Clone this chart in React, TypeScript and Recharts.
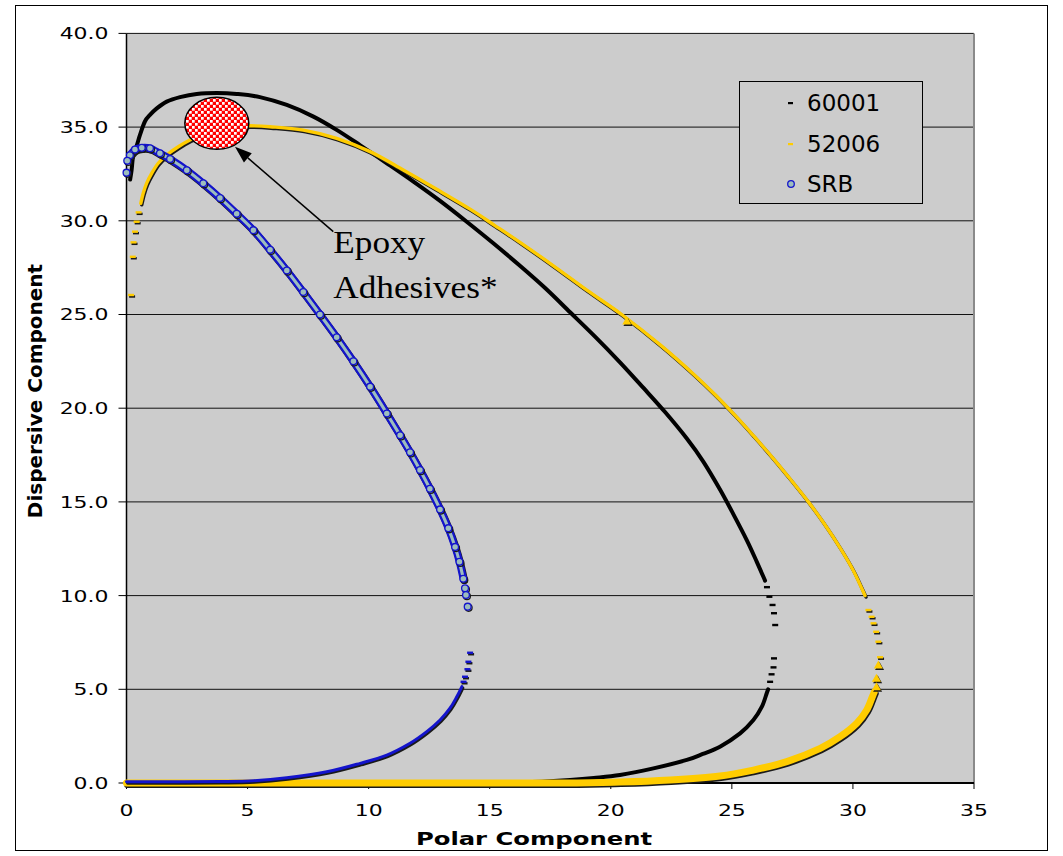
import { ScatterChart, Scatter, XAxis, YAxis, CartesianGrid, ReferenceDot, ReferenceLine } from "recharts"

// values, [polar, dispersive]
const s60001Upper = [
  [0.15, 32.2], [0.21, 32.7], [0.28, 33.5], [0.42, 34.0], [0.56, 34.6], [0.76, 35.3], [0.97, 35.65],
  [1.25, 36.0], [1.66, 36.36], [2.21, 36.6], [2.9, 36.77], [3.73, 36.82], [4.55, 36.77], [5.51, 36.6],
  [6.62, 36.18], [7.72, 35.56], [8.68, 34.85], [9.64, 34.04], [10.75, 33.07], [11.85, 32.09],
  [12.95, 31.06], [14.05, 29.95], [15.15, 28.8], [16.25, 27.6], [17.3, 26.4], [18.32, 25.12],
  [19.35, 23.82], [20.38, 22.45], [21.35, 21.08], [22.25, 19.78], [23.14, 18.38],
  [23.82, 17.15], [24.51, 15.66], [25.06, 14.35], [25.62, 12.95], [26.03, 11.8], [26.37, 10.8],
]
const s60001Tip = [
  [26.45, 10.45], [26.55, 9.94], [26.68, 9.5], [26.74, 9.06], [26.79, 8.43],
  [26.74, 6.65], [26.72, 6.17], [26.64, 5.8], [26.58, 5.4],
]
const s60001Lower = [
  [26.5, 5.0], [26.44, 4.79], [26.24, 4.07], [25.89, 3.36], [25.34, 2.65], [24.51, 1.94], [23.8, 1.55],
  [23.14, 1.23], [21.76, 0.78], [20.38, 0.43], [19.3, 0.27], [18.32, 0.16], [17.3, 0.08], [16.25, 0.03],
  [15.5, 0.0],
]

const s52006Upper = [
  [0.59, 30.93], [0.69, 31.47], [0.83, 32.0], [1.04, 32.53], [1.31, 33.07], [1.66, 33.51], [2.14, 33.95],
  [2.62, 34.31], [3.2, 34.65], [3.9, 34.9], [4.5, 35.02], [5.1, 35.07], [5.93, 35.02], [7.3, 34.84],
  [8.68, 34.4], [10.06, 33.69], [11.43, 32.71], [12.81, 31.68], [14.19, 30.62], [15.2, 29.76],
  [16.25, 28.85], [17.63, 27.6], [19.01, 26.3], [20.45, 25.0], [22.04, 23.38], [23.41, 21.83],
  [24.3, 20.73], [25.2, 19.52], [25.89, 18.53], [26.72, 17.3], [27.41, 16.22],
  [28.16, 15.0], [28.78, 13.9], [29.47, 12.55], [30.02, 11.33], [30.5, 10.0],
]
const s52006Tip = [
  [0.19, 26.04], [0.26, 28.08], [0.29, 28.85], [0.35, 29.42], [0.42, 29.95], [0.5, 30.45],
  [30.64, 9.23], [30.77, 8.87], [30.85, 8.52], [30.96, 8.07], [31.05, 7.54], [31.12, 6.71],
]
const s52006Triangles = [[20.66, 24.65], [31.05, 6.3], [30.97, 5.59], [30.97, 5.14]]
const s52006Lower = [
  [30.88, 4.85], [30.8, 4.6], [30.57, 3.9], [30.16, 3.19], [29.47, 2.47], [28.65, 1.85], [27.27, 1.14],
  [25.89, 0.69], [24.51, 0.37], [22.45, 0.16], [20.38, 0.05], [18, 0.0], [12, 0.0], [6, 0.0], [0, 0.0],
]

const srbUpper = [
  [0.14, 33.5], [0.35, 33.8], [0.63, 33.9], [0.97, 33.87], [1.38, 33.6], [1.8, 33.3], [2.49, 32.7],
  [3.17, 32.0], [3.86, 31.22], [4.55, 30.38], [5.24, 29.5], [5.93, 28.45], [6.62, 27.35], [7.3, 26.2],
  [7.99, 25.0], [8.68, 23.78], [9.37, 22.5], [10.06, 21.15], [10.75, 19.72], [11.3, 18.55],
  [11.71, 17.65], [12.12, 16.7], [12.53, 15.7], [12.95, 14.6], [13.29, 13.6], [13.57, 12.6],
  [13.75, 11.8], [13.91, 10.9],
]
const srbTipCircles = [[0.0, 32.57], [0.03, 33.2], [13.98, 10.39], [14.02, 10.03], [14.09, 9.41]]
const srbLowerTip = [[14.19, 6.95], [14.12, 6.47], [14.08, 6.07], [13.98, 5.67], [13.92, 5.4]]
const srbLower = [
  [13.85, 5.14], [13.64, 4.6], [13.36, 3.99], [12.95, 3.36], [12.4, 2.74], [11.71, 2.12], [10.75, 1.49],
  [9.65, 1.05], [8.27, 0.6], [6.62, 0.28], [5.24, 0.12], [3.86, 0.08], [2, 0.07], [0, 0.07],
]

const xTicks = [0, 5, 10, 15, 20, 25, 30, 35]
const yTicks = [0, 5, 10, 15, 20, 25, 30, 35, 40]
const legendItems = ["60001", "52006", "SRB"]

const toPts = (arr: number[][]) => arr.map(([x, y]) => ({ x, y }))

const BLACK = "#000000"
const YELLOW = "#FFCC00"
const BLUE = "#1414CC"
const RINGFILL = "#9DBDBD"
const SHADOW = "#1a1a1a"

const dash = (color: string, shadow?: string) => (p: any) => (
  <g>
    {shadow && <rect x={p.cx - 2} y={p.cy + 0.3} width={6} height={2.4} fill={shadow} />}
    <rect x={p.cx - 3} y={p.cy - 1.2} width={6} height={2.4} fill={color} />
  </g>
)

const triangle = (p: any) => {
  const tri = (dx: number, dy: number) =>
    `${p.cx + dx},${p.cy - 4.5 + dy} ${p.cx + 4.5 + dx},${p.cy + 3.5 + dy} ${p.cx - 4.5 + dx},${p.cy + 3.5 + dy}`
  return (
    <g>
      <polygon points={tri(1.2, 1.5)} fill={SHADOW} />
      <polygon points={tri(0, 0)} fill={YELLOW} />
    </g>
  )
}

const ring = (p: any) => (
  <g>
    <circle cx={p.cx + 1} cy={p.cy + 1.2} r={3.4} fill="none" stroke={SHADOW} strokeWidth={1.3} />
    <circle cx={p.cx} cy={p.cy} r={3.4} fill={RINGFILL} stroke={BLUE} strokeWidth={1.3} />
  </g>
)

const noShape = () => <g />

// smooth path through the plotted points (catmull-rom as bezier)
const smoothPath = (pts: any[]) => {
  if (!pts.length) return ""
  let d = `M${pts[0].x},${pts[0].y}`
  for (let i = 0; i < pts.length - 1; i++) {
    const p0 = pts[i - 1] || pts[i]
    const p1 = pts[i]
    const p2 = pts[i + 1]
    const p3 = pts[i + 2] || p2
    const c1x = p1.x + (p2.x - p0.x) / 6
    const c1y = p1.y + (p2.y - p0.y) / 6
    const c2x = p2.x - (p3.x - p1.x) / 6
    const c2y = p2.y - (p3.y - p1.y) / 6
    d += ` C${c1x},${c1y} ${c2x},${c2y} ${p2.x},${p2.y}`
  }
  return d
}

const band = (color: string, width: number, shadow?: string, inner?: string) => (props: any) => {
  const d = smoothPath(props.points || [])
  const common = { fill: "none", strokeLinejoin: "round" as const, strokeLinecap: "round" as const }
  return (
    <g>
      {shadow && <path d={d} transform="translate(1,1.5)" stroke={shadow} strokeWidth={width} {...common} />}
      <path d={d} stroke={color} strokeWidth={width} {...common} />
      {inner && <path d={d} stroke={inner} strokeWidth={width - 4.4} {...common} />}
    </g>
  )
}

const XTick = (p: any) => (
  <text transform={`translate(${p.x},${p.y + 25}) scale(1.33,1)`} textAnchor="middle"
    fontFamily="DejaVu Sans" fontSize={16.5} fill="#000">
    {p.payload.value}
  </text>
)

const YTick = (p: any) => (
  <text transform={`translate(${p.x},${p.y}) scale(1.33,1)`} textAnchor="end" dy="0.36em"
    fontFamily="DejaVu Sans" fontSize={16.5} fill="#000">
    {Number(p.payload.value).toFixed(1)}
  </text>
)

const ellipseShape = (p: any) => (
  <g>
    <defs>
      <pattern id="checker" width={6} height={6} patternUnits="userSpaceOnUse">
        <rect width={6} height={6} fill="#FF0000" />
        <rect x={0} y={0} width={2.7} height={2.7} fill="#FFFFFF" />
        <rect x={3} y={3} width={2.7} height={2.7} fill="#FFFFFF" />
      </pattern>
    </defs>
    <ellipse cx={p.cx} cy={p.cy} rx={32} ry={26} fill="url(#checker)" stroke="#000" strokeWidth={1.5} />
  </g>
)

const arrowShape = (p: any) => {
  const { x1, y1, x2, y2 } = p
  const len = Math.hypot(x2 - x1, y2 - y1) || 1
  const ux = (x2 - x1) / len
  const uy = (y2 - y1) / len
  const bx = x2 - ux * 17
  const by = y2 - uy * 17
  return (
    <g>
      <line x1={x1} y1={y1} x2={bx} y2={by} stroke="#000" strokeWidth={1.5} />
      <polygon points={`${x2},${y2} ${bx - uy * 6},${by + ux * 6} ${bx + uy * 6},${by - ux * 6}`} fill="#000" />
    </g>
  )
}

const noteShape = (p: any) => (
  <text transform={`translate(${p.cx},${p.cy}) scale(1.1,1)`} fontFamily="Liberation Serif" fontSize={32} fill="#000">
    <tspan x={0} y={0}>Epoxy</tspan>
    <tspan x={0} y={45}>Adhesives*</tspan>
  </text>
)

const legendMarker = (name: string) => {
  if (name === "SRB")
    return <svg width={12} height={12}><circle cx={6} cy={6} r={3.3} fill={RINGFILL} stroke={BLUE} strokeWidth={1.3} /></svg>
  return <svg width={12} height={12}><rect x={3} y={5} width={5} height={2.2} fill={name === "60001" ? BLACK : YELLOW} /></svg>
}

export default function App() {
  return (
    <div style={{ position: "absolute", left: 0, top: 0, width: 1063, height: 856 }}>
      <ScatterChart width={1063} height={856} margin={{ top: 33.4, right: 89, bottom: 0, left: 0 }}>
        <CartesianGrid horizontal vertical={false} fill="#CCCCCC" stroke="#111" strokeWidth={1} />
        <XAxis type="number" dataKey="x" domain={[0, 35]} ticks={xTicks} height={73}
          axisLine={{ stroke: "#000", strokeWidth: 2 }} tickLine={{ stroke: "#000" }} tickSize={6} tick={<XTick />} />
        <YAxis type="number" dataKey="y" domain={[0, 40]} ticks={yTicks} width={126.5}
          axisLine={{ stroke: "#000", strokeWidth: 1.5 }} tickLine={{ stroke: "#000" }} tickSize={8} tickMargin={10} tick={<YTick />} />
        <ReferenceLine x={35} stroke="#8a8a8a" strokeWidth={2} />

        <Scatter name="60001" data={toPts(s60001Upper)} line={band(BLACK, 4)} shape={noShape} isAnimationActive={false} />
        <Scatter name="60001 tip" data={toPts(s60001Tip)} shape={dash(BLACK)} isAnimationActive={false} />
        <Scatter name="60001 low" data={toPts(s60001Lower)} line={band(BLACK, 4)} shape={noShape} isAnimationActive={false} />

        <Scatter name="52006" data={toPts(s52006Upper)} line={band(YELLOW, 3.4, SHADOW)} shape={noShape} isAnimationActive={false} />
        <Scatter name="52006 tip" data={toPts(s52006Tip)} shape={dash(YELLOW, SHADOW)} isAnimationActive={false} />
        <Scatter name="52006 low" data={toPts(s52006Lower)} line={band(YELLOW, 7, SHADOW)} shape={noShape} isAnimationActive={false} />
        <Scatter name="52006 tri" data={toPts(s52006Triangles)} shape={triangle} isAnimationActive={false} />

        <Scatter name="SRB" data={toPts(srbUpper)} line={band(BLUE, 7.5, SHADOW, RINGFILL)} shape={ring} isAnimationActive={false} />
        <Scatter name="SRB tip" data={toPts(srbTipCircles)} shape={ring} isAnimationActive={false} />
        <Scatter name="SRB low" data={toPts(srbLower)} line={band(BLUE, 3, SHADOW)} shape={noShape} isAnimationActive={false} />
        <Scatter name="SRB low tip" data={toPts(srbLowerTip)} shape={dash(BLUE, SHADOW)} isAnimationActive={false} />

        <ReferenceLine segment={[{ x: 8.54, y: 29.42 }, { x: 4.48, y: 33.95 }]} shape={arrowShape} />
        <ReferenceDot x={3.73} y={35.2} shape={ellipseShape} />
        <ReferenceDot x={8.54} y={28.28} shape={noteShape} />
      </ScatterChart>

      <svg width={1063} height={856} style={{ position: "absolute", left: 0, top: 0, pointerEvents: "none" }}>
        <text transform="translate(534,845) scale(1.35,1)" textAnchor="middle" fontFamily="DejaVu Sans" fontWeight="bold" fontSize={18}>
          Polar Component
        </text>
        <text transform="translate(42,391) rotate(-90)" textAnchor="middle" fontFamily="DejaVu Sans" fontWeight="bold" fontSize={20}>
          Dispersive Component
        </text>
      </svg>

      <div style={{
        position: "absolute", left: 739, top: 81, width: 184, height: 123, boxSizing: "border-box",
        border: "1.5px solid #000", background: "#CCCCCC", fontFamily: "DejaVu Sans", fontSize: 23,
      }}>
        {legendItems.map((name, i) => (
          <div key={name} style={{ position: "absolute", left: 45, top: 6 + i * 40.5, height: 30, display: "flex", alignItems: "center" }}>
            {legendMarker(name)}
            <span style={{ marginLeft: 10 }}>{name}</span>
          </div>
        ))}
      </div>

      <div style={{
        position: "absolute", left: 15, top: 5, width: 1033, height: 846, boxSizing: "border-box",
        border: "1px solid #000", pointerEvents: "none",
      }} />
    </div>
  )
}
